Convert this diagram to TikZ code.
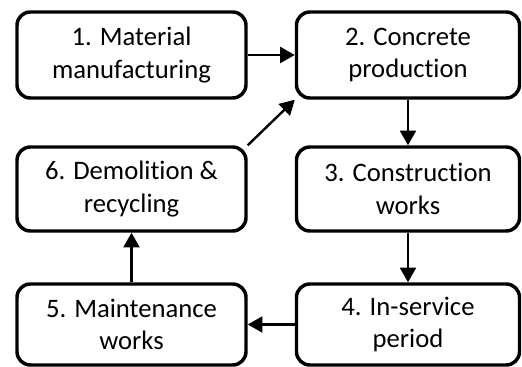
\documentclass[tikz,border=0pt]{standalone}
\usepackage{fontspec}
\setmainfont{Carlito}[Ligatures = NoCommon]
\usetikzlibrary{arrows.meta}

\begin{document}
\begin{tikzpicture}[x = 0.75pt, y = -0.75pt, > = {Triangle[length = 11pt, width = 12pt]},
	stage/.style = {draw, line width = 2.6pt, rounded corners = 10pt, align = center,
		inner sep = 0pt, font = \fontsize{20}{24.5}\selectfont},
	flow/.style = {->, line width = 1.8pt}]

	% Definitions
	
	\def\WL{171.75pt}	% Width of left boxes
	\def\WR{167.25pt}	% Width of right boxes
	\def\HT{64.5pt}		% Height of upper boxes
	\def\HM{63pt}		% Height of middle boxes
	\def\HB{60.75pt}	% Height of lower boxes
	
	\useasboundingbox (0, 0) rectangle (522, 367);
	
	% Stages of the life cycle
	
	\node [stage, minimum width = \WL, minimum height = \HT] (material) at (131.5, 55) {1. Material\\manufacturing};
	\node [stage, minimum width = \WR, minimum height = \HT] (concrete) at (408, 55) {2. Concrete\\production};
	\node [stage, minimum width = \WR, minimum height = \HM] (construction) at (408, 189) {3. Construction\\works};
	\node [stage, minimum width = \WR, minimum height = \HB] (service) at (408, 324.5) {4. In-service\\period};
	\node [stage, minimum width = \WL, minimum height = \HB] (maintenance) at (131.5, 324.5) {5. Maintenance\\works};
	\node [stage, minimum width = \WL, minimum height = \HM] (demolition) at (131.5, 189) {6. Demolition \&\\recycling};
	
	% Flow between stages
	
	\draw [flow] (material) -- (concrete);
	\draw [flow] (concrete) -- (construction);
	\draw [flow] (construction) -- (service);
	\draw [flow] (service) -- (maintenance);
	\draw [flow] (maintenance) -- (demolition);
	\draw [flow] (demolition.north east) -- (concrete.south west);
	
\end{tikzpicture}
\end{document}
